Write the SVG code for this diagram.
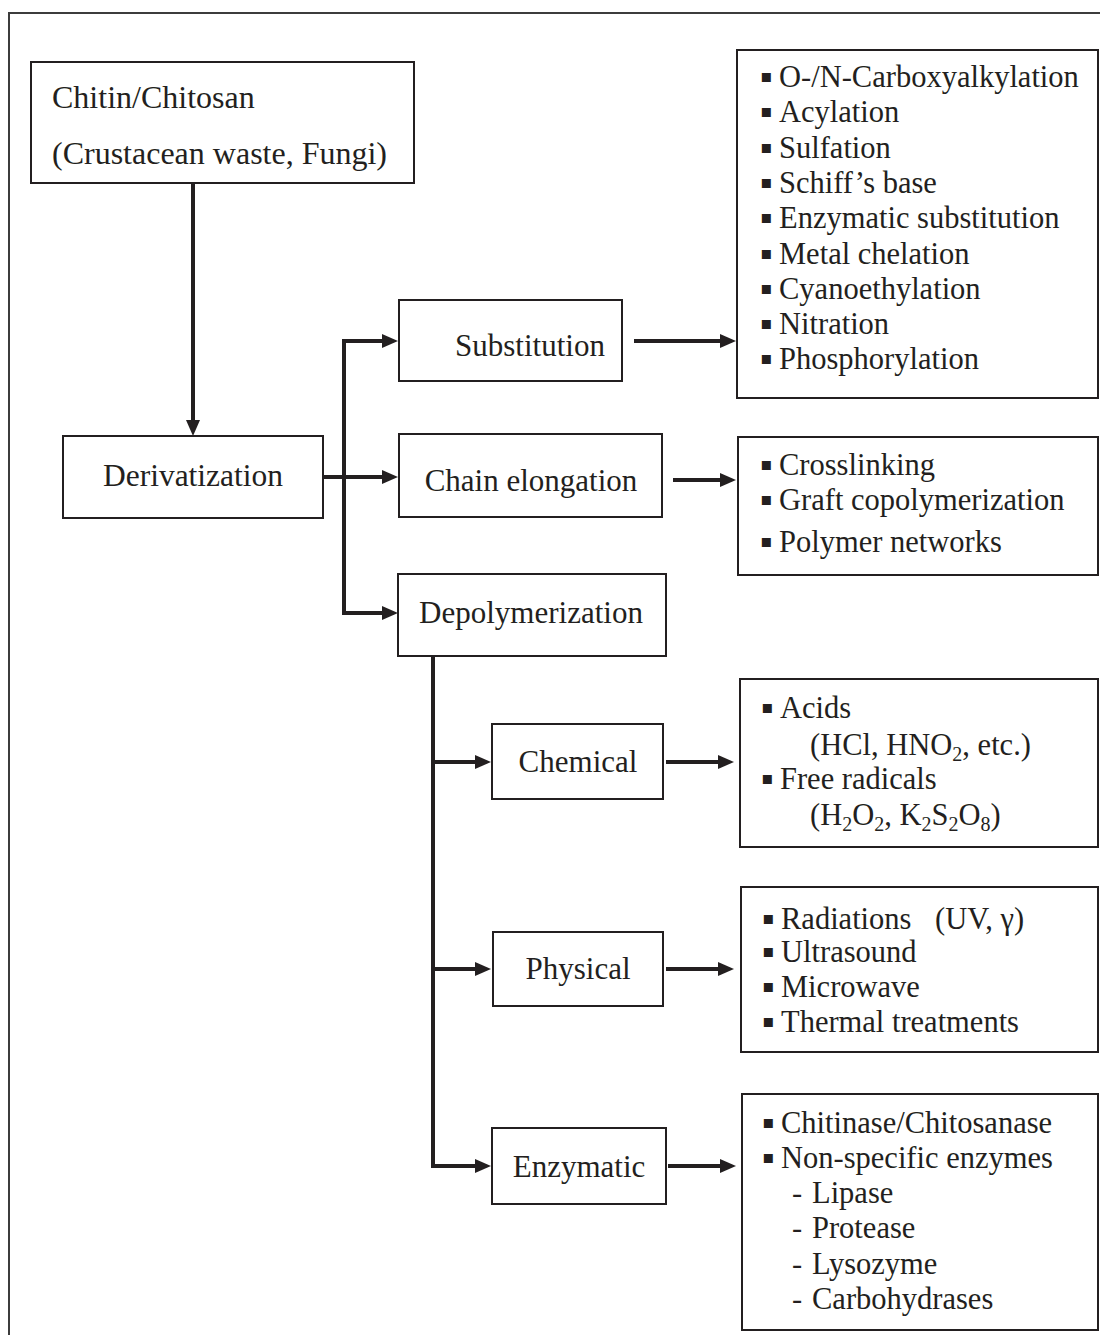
<svg xmlns="http://www.w3.org/2000/svg" width="1100" height="1335" viewBox="0 0 1100 1335">
<style>
  .box { fill: #ffffff; stroke: #231f20; stroke-width: 2; }
  .lbl { font-family: "Liberation Serif", "Times New Roman", serif; font-size: 31px; fill: #231f20; text-anchor: middle; }
  .lst { font-family: "Liberation Serif", "Times New Roman", serif; font-size: 30.5px; fill: #231f20; }
  .top { font-family: "Liberation Serif", "Times New Roman", serif; font-size: 32px; fill: #231f20; }
  .b { font-family: "DejaVu Sans", sans-serif; font-size: 18px; }
  .sub { font-size: 20px; }
  .con { fill: none; stroke: #231f20; stroke-width: 4; }
  .arr { fill: none; stroke: #231f20; stroke-width: 4; marker-end: url(#ah); }
</style>
<defs>
  <marker id="ah" markerUnits="userSpaceOnUse" markerWidth="16" markerHeight="14" refX="0" refY="7" orient="auto" viewBox="0 0 16 14">
    <path d="M0,0 L16,7 L0,14 z" fill="#231f20"/>
  </marker>
</defs>
<rect width="1100" height="1335" fill="#ffffff"/>
<path d="M9,1336 L9,13 L1101,13" fill="none" stroke="#3c3c3c" stroke-width="2"/>

<g id="connectors">
  <line class="arr" x1="193" y1="183" x2="193" y2="420"/>
  <path class="con" d="M381,341 L344,341 L344,613 L381,613"/>
  <line class="arr" x1="344" y1="341" x2="382" y2="341"/>
  <line class="arr" x1="323" y1="477" x2="382" y2="477"/>
  <line class="arr" x1="344" y1="613" x2="382" y2="613"/>
  <line class="arr" x1="634" y1="341" x2="720" y2="341"/>
  <line class="arr" x1="673" y1="480" x2="720" y2="480"/>
  <path class="con" d="M433,657 L433,1166 L474,1166"/>
  <line class="arr" x1="433" y1="762" x2="475" y2="762"/>
  <line class="arr" x1="433" y1="969" x2="475" y2="969"/>
  <line class="arr" x1="433" y1="1166" x2="475" y2="1166"/>
  <line class="arr" x1="666" y1="762" x2="718" y2="762"/>
  <line class="arr" x1="666" y1="969" x2="718" y2="969"/>
  <line class="arr" x1="668" y1="1166" x2="720" y2="1166"/>
</g>

<g id="chitin">
  <rect class="box" x="31" y="62" width="383" height="121"/>
  <text class="top" x="52" y="108">Chitin/Chitosan</text>
  <text class="top" x="52" y="164">(Crustacean waste, Fungi)</text>
</g>

<g id="derivatization">
  <rect class="box" x="63" y="436" width="260" height="82"/>
  <text class="lbl" x="193" y="486" style="font-size:31.5px">Derivatization</text>
</g>

<g id="substitution">
  <rect class="box" x="399" y="300" width="223" height="81"/>
  <text class="lbl" x="530" y="356">Substitution</text>
</g>

<g id="chain-elongation">
  <rect class="box" x="399" y="434" width="263" height="83"/>
  <text class="lbl" x="531" y="491">Chain elongation</text>
</g>

<g id="depolymerization">
  <rect class="box" x="398" y="574" width="268" height="82"/>
  <text class="lbl" x="531" y="623">Depolymerization</text>
</g>

<g id="chemical">
  <rect class="box" x="492" y="724" width="171" height="75"/>
  <text class="lbl" x="578" y="772">Chemical</text>
</g>

<g id="physical">
  <rect class="box" x="493" y="932" width="170" height="74"/>
  <text class="lbl" x="578" y="979">Physical</text>
</g>

<g id="enzymatic">
  <rect class="box" x="492" y="1128" width="174" height="76"/>
  <text class="lbl" x="579" y="1177">Enzymatic</text>
</g>

<g id="substitution-list">
  <rect class="box" x="737" y="50" width="361" height="348"/>
  <text class="lst" y="87"><tspan class="b" x="760" dy="-5">▪</tspan><tspan x="779" dy="5">O-/N-Carboxyalkylation</tspan></text>
  <text class="lst" y="122"><tspan class="b" x="760" dy="-5">▪</tspan><tspan x="779" dy="5">Acylation</tspan></text>
  <text class="lst" y="158"><tspan class="b" x="760" dy="-5">▪</tspan><tspan x="779" dy="5">Sulfation</tspan></text>
  <text class="lst" y="193"><tspan class="b" x="760" dy="-5">▪</tspan><tspan x="779" dy="5">Schiff’s base</tspan></text>
  <text class="lst" y="228"><tspan class="b" x="760" dy="-5">▪</tspan><tspan x="779" dy="5">Enzymatic substitution</tspan></text>
  <text class="lst" y="264"><tspan class="b" x="760" dy="-5">▪</tspan><tspan x="779" dy="5">Metal chelation</tspan></text>
  <text class="lst" y="299"><tspan class="b" x="760" dy="-5">▪</tspan><tspan x="779" dy="5">Cyanoethylation</tspan></text>
  <text class="lst" y="334"><tspan class="b" x="760" dy="-5">▪</tspan><tspan x="779" dy="5">Nitration</tspan></text>
  <text class="lst" y="369"><tspan class="b" x="760" dy="-5">▪</tspan><tspan x="779" dy="5">Phosphorylation</tspan></text>
</g>

<g id="chain-list">
  <rect class="box" x="738" y="437" width="360" height="138"/>
  <text class="lst" y="475"><tspan class="b" x="760" dy="-5">▪</tspan><tspan x="779" dy="5">Crosslinking</tspan></text>
  <text class="lst" y="510"><tspan class="b" x="760" dy="-5">▪</tspan><tspan x="779" dy="5">Graft copolymerization</tspan></text>
  <text class="lst" y="552"><tspan class="b" x="760" dy="-5">▪</tspan><tspan x="779" dy="5">Polymer networks</tspan></text>
</g>

<g id="chemical-list">
  <rect class="box" x="740" y="679" width="358" height="168"/>
  <text class="lst" y="718"><tspan class="b" x="761" dy="-5">▪</tspan><tspan x="780" dy="5">Acids</tspan></text>
  <text class="lst" x="810" y="755">(HCl, HNO<tspan class="sub" dy="6">2</tspan><tspan dy="-6">, etc.)</tspan></text>
  <text class="lst" y="789"><tspan class="b" x="761" dy="-5">▪</tspan><tspan x="780" dy="5">Free radicals</tspan></text>
  <text class="lst" x="810" y="825">(H<tspan class="sub" dy="6">2</tspan><tspan dy="-6">O</tspan><tspan class="sub" dy="6">2</tspan><tspan dy="-6">, K</tspan><tspan class="sub" dy="6">2</tspan><tspan dy="-6">S</tspan><tspan class="sub" dy="6">2</tspan><tspan dy="-6">O</tspan><tspan class="sub" dy="6">8</tspan><tspan dy="-6">)</tspan></text>
</g>

<g id="physical-list">
  <rect class="box" x="741" y="887" width="357" height="165"/>
  <text class="lst" y="929"><tspan class="b" x="762" dy="-5">▪</tspan><tspan x="781" dy="5">Radiations</tspan><tspan x="935">(UV, γ)</tspan></text>
  <text class="lst" y="962"><tspan class="b" x="762" dy="-5">▪</tspan><tspan x="781" dy="5">Ultrasound</tspan></text>
  <text class="lst" y="997"><tspan class="b" x="762" dy="-5">▪</tspan><tspan x="781" dy="5">Microwave</tspan></text>
  <text class="lst" y="1032"><tspan class="b" x="762" dy="-5">▪</tspan><tspan x="781" dy="5">Thermal treatments</tspan></text>
</g>

<g id="enzymatic-list">
  <rect class="box" x="742" y="1094" width="356" height="236"/>
  <text class="lst" y="1133"><tspan class="b" x="762" dy="-5">▪</tspan><tspan x="781" dy="5">Chitinase/Chitosanase</tspan></text>
  <text class="lst" y="1168"><tspan class="b" x="762" dy="-5">▪</tspan><tspan x="781" dy="5">Non-specific enzymes</tspan></text>
  <text class="lst" y="1203"><tspan x="792">-</tspan><tspan x="812">Lipase</tspan></text>
  <text class="lst" y="1238"><tspan x="792">-</tspan><tspan x="812">Protease</tspan></text>
  <text class="lst" y="1274"><tspan x="792">-</tspan><tspan x="812">Lysozyme</tspan></text>
  <text class="lst" y="1309"><tspan x="792">-</tspan><tspan x="812">Carbohydrases</tspan></text>
</g>
</svg>
